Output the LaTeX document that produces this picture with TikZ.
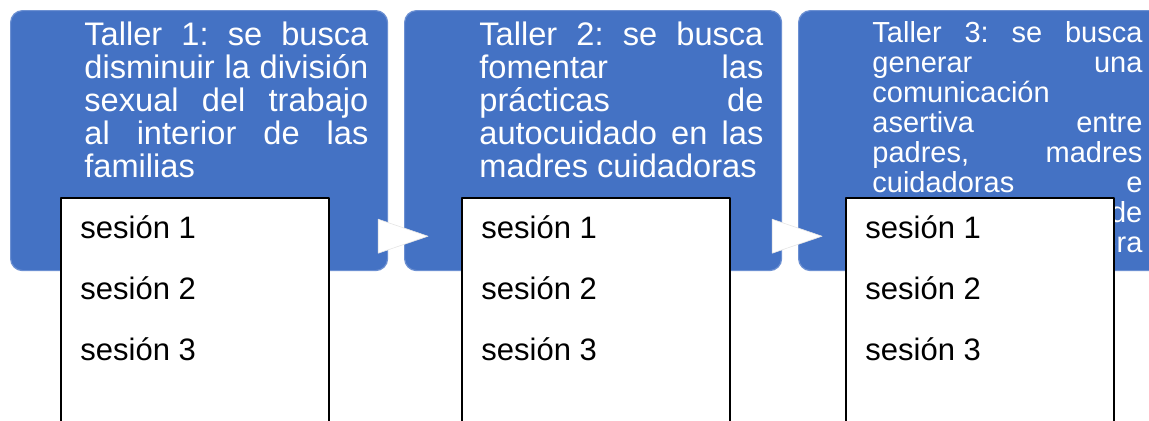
\documentclass[tikz,border=0pt]{standalone}
\usepackage{fontspec}
\setmainfont{Liberation Sans}
\usetikzlibrary{calc, positioning}
\frenchspacing
\definecolor{tallerblue}{RGB}{68,114,196}
\definecolor{tallerline}{RGB}{108,144,210}
\tikzset{
  taller/.style={rectangle, rounded corners=6pt, fill=tallerblue, draw=tallerline,
    line width=0.6pt, minimum width=188.5pt, minimum height=130pt,
    anchor=north west, inner sep=0pt},
  tallertext/.style={anchor=north west, inner sep=0pt, text=white,
    text width=142pt, align=justify, font=\fontsize{16.3}{16.55}\selectfont},
  sesiones/.style={rectangle, fill=white, draw=black, line width=1pt,
    minimum width=134pt, minimum height=130pt, anchor=north west, inner sep=0pt},
  sesion/.style={anchor=base west, inner sep=0pt, font=\fontsize{15.5}{18}\selectfont},
  flecha/.style={fill=white, draw=gray!20, line width=0.3pt}
}

\begin{document}
\begin{tikzpicture}[x=0.5pt, y=-0.5pt, line join=round]

  % page size in pixels of the reference
  \useasboundingbox (0,0) rectangle (1149,420);
  \clip (0,0) rectangle (1149,420);

  % --- talleres ---
  \node[taller] (taller1) at (10,10) {};
  \node[taller] (taller2) at (404,10) {};
  \node[taller] (taller3) at (798,10) {};

  \node[tallertext] (texto1) at (84,21)
    {Taller 1: se busca\linebreak disminuir la división\linebreak
     sexual del trabajo\linebreak al interior de las\linebreak familias};
  \node[tallertext] (texto2) at (479,21)
    {Taller 2: se busca\linebreak fomentar las\linebreak prácticas de\linebreak
     autocuidado en las\linebreak madres cuidadoras};
  \node[tallertext, text width=135pt, font=\fontsize{14.5}{15}\selectfont] (texto3) at (872,21)
    {Taller 3: se busca\linebreak generar una\linebreak comunicación\newline
     asertiva entre\linebreak padres, madres\linebreak cuidadoras e\linebreak
     sus hijos e hijas de\linebreak una forma sincera\linebreak};

  % --- flechas entre talleres ---
  \foreach \a/\b in {taller1/taller2, taller2/taller3}{
    \draw[flecha] ($(\a.south east)+(-10,-52)$) -- ($(\b.south west)+(24,-35)$)
      -- ($(\a.south east)+(-10,-18)$) -- cycle;
  }

  % --- sesiones ---
  \node[sesiones] (sesiones1) at (60,197) {};
  \node[sesiones] (sesiones2) at (461,197) {};
  \node[sesiones] (sesiones3) at (845,197) {};

  \foreach \i in {1,2,3}{
    \foreach \k in {1,2,3}{
      \node[sesion] (s\i-\k) at ($(sesiones\i.north west)+(20,{41+61*(\k-1)})$) {sesión \k};
    }
  }

\end{tikzpicture}
\end{document}
